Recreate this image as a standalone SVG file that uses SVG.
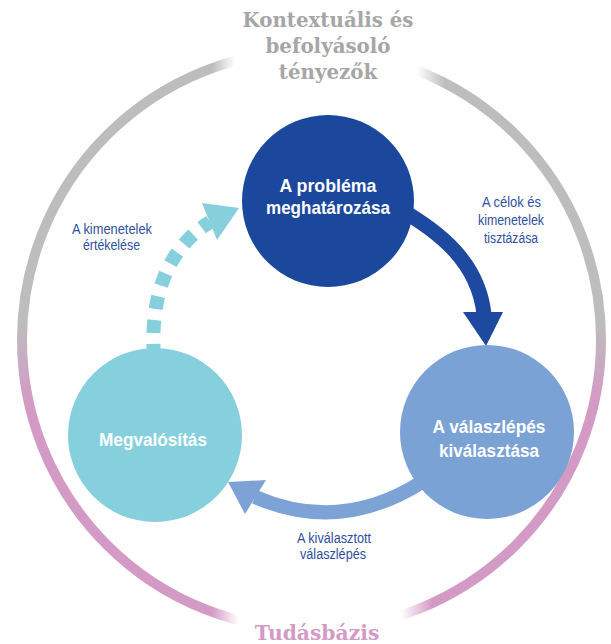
<svg xmlns="http://www.w3.org/2000/svg" width="611" height="644" viewBox="0 0 611 644">
<defs>
<style>
.title{font-family:"DejaVu Serif","Liberation Serif",serif;font-weight:bold;text-anchor:middle}
.node{font-family:"Liberation Sans",Arial,sans-serif;font-weight:bold;font-size:19px;fill:#ffffff;text-anchor:middle}
.lbl{font-family:"Liberation Sans",Arial,sans-serif;font-size:14px;fill:#2F4FA0;text-anchor:middle}
</style>
<linearGradient id="ringGrad" gradientUnits="userSpaceOnUse" x1="0" y1="50" x2="0" y2="630">
<stop offset="0" stop-color="#BDBDBD"/>
<stop offset="0.47" stop-color="#BDBDBD"/>
<stop offset="0.6" stop-color="#D49AC6"/>
<stop offset="1" stop-color="#D49AC6"/>
</linearGradient>
<linearGradient id="gapTop" gradientUnits="userSpaceOnUse" x1="212" y1="0" x2="445" y2="0">
<stop offset="0" stop-color="#fff"/>
<stop offset="0.1" stop-color="#000"/>
<stop offset="0.88" stop-color="#000"/>
<stop offset="1" stop-color="#fff"/>
</linearGradient>
<linearGradient id="gapBot" gradientUnits="userSpaceOnUse" x1="212" y1="0" x2="432" y2="0">
<stop offset="0" stop-color="#fff"/>
<stop offset="0.12" stop-color="#000"/>
<stop offset="0.86" stop-color="#000"/>
<stop offset="1" stop-color="#fff"/>
</linearGradient>
<mask id="ringMask" maskUnits="userSpaceOnUse" x="0" y="0" width="611" height="644">
<rect x="0" y="0" width="611" height="644" fill="#fff"/>
<rect x="212" y="0" width="233" height="120" fill="url(#gapTop)"/>
<rect x="212" y="560" width="220" height="84" fill="url(#gapBot)"/>
</mask>
</defs>
<rect width="611" height="644" fill="#ffffff"/>
<g id="ring">
<circle cx="311.5" cy="340" r="289.5" fill="none" stroke="url(#ringGrad)" stroke-width="10" mask="url(#ringMask)"/>
</g>
<g id="title-top">
<text class="title" x="328" y="27" font-size="19.8" fill="#A6A6A6">Kontextuális és</text>
<text class="title" x="328" y="53" font-size="19.8" fill="#A6A6A6">befolyásoló</text>
<text class="title" x="328" y="79" font-size="19.8" fill="#A6A6A6">tényezők</text>
</g>
<g id="title-bottom">
<text class="title" x="317" y="640" font-size="20.3" fill="#D49AC6">Tudásbázis</text>
</g>
<g id="connectors">
<path d="M398 208 C440 232 478 262 484 314" fill="none" stroke="#1D4AA0" stroke-width="15"/>
<path d="M463 312 L503 312 L486 346 Z" fill="#1D4AA0"/>
<path d="M422 482 Q340 534 255 497" fill="none" stroke="#7DA3D6" stroke-width="14"/>
<path d="M228 482 L266 480 L245 514 Z" fill="#7DA3D6"/>
<path d="M154 357 C150 300 165 250 210 222" fill="none" stroke="#86D0DD" stroke-width="14" stroke-dasharray="13 11"/>
<path d="M239 208 L202 203 L217 240 Z" fill="#86D0DD"/>
</g>
<g id="node-problem">
<circle cx="328" cy="201" r="86" fill="#1B489D"/>
<text class="node" x="328" y="192" textLength="97" lengthAdjust="spacingAndGlyphs">A probléma</text>
<text class="node" x="328" y="214" textLength="124" lengthAdjust="spacingAndGlyphs">meghatározása</text>
</g>
<g id="node-choice">
<circle cx="487" cy="432" r="87" fill="#7BA2D5"/>
<text class="node" x="489" y="433" textLength="113" lengthAdjust="spacingAndGlyphs">A válaszlépés</text>
<text class="node" x="489" y="457" textLength="100" lengthAdjust="spacingAndGlyphs">kiválasztása</text>
</g>
<g id="node-impl">
<circle cx="155" cy="435" r="87" fill="#86D0DD"/>
<text class="node" x="153" y="446" textLength="108" lengthAdjust="spacingAndGlyphs">Megvalósítás</text>
</g>
<g id="labels">
<text class="lbl" x="112" y="234" textLength="80" lengthAdjust="spacingAndGlyphs">A kimenetelek</text>
<text class="lbl" x="111.5" y="250" textLength="57" lengthAdjust="spacingAndGlyphs">értékelése</text>
<text class="lbl" x="511.5" y="207" textLength="59" lengthAdjust="spacingAndGlyphs">A célok és</text>
<text class="lbl" x="511" y="225" textLength="66" lengthAdjust="spacingAndGlyphs">kimenetelek</text>
<text class="lbl" x="511" y="243" textLength="54" lengthAdjust="spacingAndGlyphs">tisztázása</text>
<text class="lbl" x="334" y="543" textLength="74" lengthAdjust="spacingAndGlyphs">A kiválasztott</text>
<text class="lbl" x="333" y="559" textLength="66" lengthAdjust="spacingAndGlyphs">válaszlépés</text>
</g>
</svg>
